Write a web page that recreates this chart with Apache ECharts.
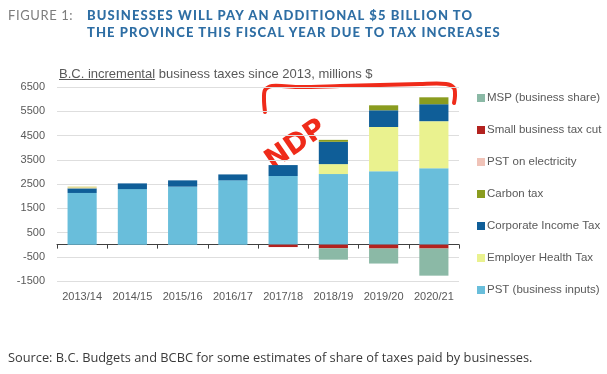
<!DOCTYPE html>
<html>
<head>
<meta charset="utf-8">
<script src="https://cdn.jsdelivr.net/npm/echarts@6/dist/echarts.min.js"></script>
<style>
  html, body { margin: 0; padding: 0; background: #ffffff; }
  #wrap { position: relative; width: 607px; height: 374px; overflow: hidden; background: #fff; }
  #chart { position: absolute; left: 0; top: 0; width: 607px; height: 374px; }
  .fig { position: absolute; left: 8px; top: 7px; font-family: 'Lato', 'Open Sans', sans-serif; font-size: 13px; letter-spacing: 0.6px; color: #7d7d7d; font-weight: 400; }
  .ttl { position: absolute; left: 87px; top: 7px; font-family: 'Lato', 'Open Sans', sans-serif; font-size: 13px; line-height: 17px; letter-spacing: 1.1px; color: #2e6ea4; font-weight: 900; white-space: nowrap; }
  .sub { position: absolute; left: 59px; top: 66px; font-family: 'Liberation Sans', Arial, sans-serif; font-size: 13px; color: #595959; white-space: nowrap; }
  .sub u { text-decoration: underline; text-decoration-color: #595959; }
  .src { position: absolute; left: 8px; top: 348px; font-family: 'Open Sans', 'Lato', sans-serif; font-size: 12.8px; color: #3a3a3a; white-space: nowrap; }
</style>
</head>
<body>
<div id="wrap">
  <div id="chart"></div>
  <div class="fig">FIGURE 1:</div>
  <div class="ttl">BUSINESSES WILL PAY AN ADDITIONAL $5 BILLION TO<br>THE PROVINCE THIS FISCAL YEAR DUE TO TAX INCREASES</div>
  <div class="sub"><u>B.C. incremental</u> business taxes since 2013, millions $</div>
  <div class="src">Source: B.C. Budgets and BCBC for some estimates of share of taxes paid by businesses.</div>
</div>
<script>
// ---- data (millions $) ----
var categories = ['2013/14', '2014/15', '2015/16', '2016/17', '2017/18', '2018/19', '2019/20', '2020/21'];
var pstInputs   = [2130, 2290, 2390, 2650, 2830, 2910, 3030, 3150];
var employerHealth = [0, 0, 0, 0, 0, 410, 1820, 1940];
var corporateIncome = [190, 235, 260, 245, 450, 920, 690, 700];
var carbonTax   = [80, 0, 0, 0, 0, 80, 205, 285];
var pstElectricity = [0, 0, 0, 0, 0, 0, 0, 0];
var smallBizCut = [0, 0, 0, 0, -100, -150, -160, -160];
var mspBusiness = [0, 0, 0, 0, 0, -470, -620, -1120];
var yTicks = [-1500, -500, 500, 1500, 2500, 3500, 4500, 5500, 6500];

var FONT = "'Liberation Sans', Arial, sans-serif";

var names = {
  pst: 'PST (business inputs)',
  eht: 'Employer Health Tax',
  cit: 'Corporate Income Tax',
  carbon: 'Carbon tax',
  elec: 'PST on electricity',
  sbt: 'Small business tax cut',
  msp: 'MSP (business share)'
};

function barSeries(name, data, color, itemColors) {
  return {
    name: name,
    type: 'bar',
    stack: 'total',
    barCategoryGap: '42%',
    itemStyle: { color: color },
    data: data.map(function (v, i) {
      if (itemColors && itemColors[i]) return { value: v, itemStyle: { color: itemColors[i] } };
      return v;
    }),
    emphasis: { disabled: true }
  };
}

var chart = echarts.init(document.getElementById('chart'), null, { renderer: 'canvas' });
chart.setOption({
  animation: false,
  backgroundColor: 'transparent',
  grid: { left: 57, right: 148, top: 87, bottom: 93, containLabel: false },
  legend: {
    orient: 'vertical',
    left: 472,
    top: 86,
    itemWidth: 8,
    itemHeight: 8,
    itemGap: 18,
    icon: 'rect',
    textStyle: { fontFamily: FONT, fontSize: 11.5, color: '#595959', lineHeight: 14, padding: [0, 0, 0, -3] },
    data: [names.msp, names.sbt, names.elec, names.carbon, names.cit, names.eht, names.pst]
  },
  xAxis: [
    {
      type: 'category',
      data: categories,
      position: 'bottom',
      axisLine: { show: false, onZero: false },
      axisTick: { show: false },
      axisLabel: { fontFamily: FONT, fontSize: 11, color: '#595959', margin: 10, interval: 0 }
    },
    {
      type: 'category',
      data: categories,
      position: 'bottom',
      axisLine: { show: true, onZero: true, lineStyle: { color: '#404040', width: 1 } },
      axisTick: { show: true, length: 4, interval: 0, lineStyle: { color: '#404040' } },
      axisLabel: { show: false }
    }
  ],
  yAxis: {
    type: 'value',
    min: -1500,
    max: 6500,
    interval: 1000,
    axisLine: { show: false },
    axisTick: { show: false },
    splitLine: { lineStyle: { color: '#dedede', width: 1 } },
    axisLabel: {
      fontFamily: FONT, fontSize: 11, color: '#595959', margin: 12,
      formatter: function (v) { return yTicks.indexOf(v) >= 0 ? String(v) : ''; }
    }
  },
  series: [
    barSeries(names.pst, pstInputs, '#69bedb'),
    barSeries(names.eht, employerHealth, '#eaf28f'),
    barSeries(names.cit, corporateIncome, '#0f5e98'),
    barSeries(names.carbon, carbonTax, '#8a9c1f', ['#e3dc9a']),
    barSeries(names.elec, pstElectricity, '#f0c3b8'),
    barSeries(names.sbt, smallBizCut, '#b3221f'),
    barSeries(names.msp, mspBusiness, '#8bb9a6')
  ],
  graphic: [
    {
      type: 'polyline',
      silent: true,
      shape: {
        points: [[265, 112], [264, 100], [265, 90], [272, 86], [300, 87], [340, 86], [380, 85], [420, 84], [446, 84], [454, 88], [455, 96], [454, 103]],
        smooth: 0.3
      },
      style: { stroke: '#ef2b1a', lineWidth: 4, fill: null, lineCap: 'round', lineJoin: 'round' }
    },
    {
      type: 'text',
      silent: true,
      x: 296,
      y: 145,
      rotation: 0.6,
      style: {
        text: 'NDP',
        fontFamily: "'DejaVu Sans', sans-serif",
        fontWeight: 'bold',
        fontSize: 28,
        fill: '#ef2b1a',
        align: 'center',
        verticalAlign: 'middle'
      }
    }
  ]
});
</script>
</body>
</html>
